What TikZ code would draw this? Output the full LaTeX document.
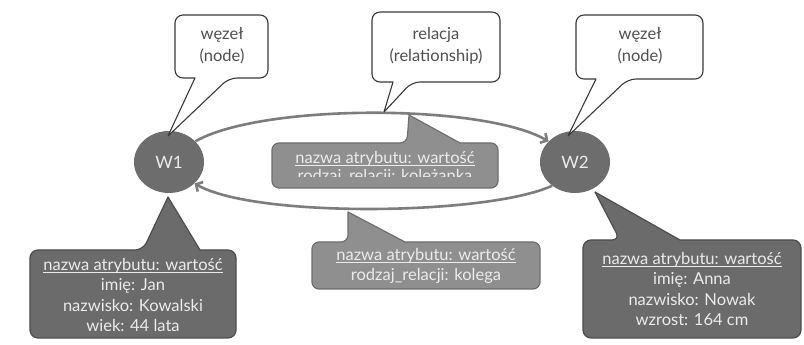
\documentclass[tikz,border=0pt]{standalone}
\usepackage{fontspec}
\setmainfont{Lato}
\usetikzlibrary{shapes.geometric,arrows.meta}
\definecolor{circfill}{HTML}{6D6D6D}
\definecolor{arccol}{HTML}{7D7D7D}
\definecolor{callborder}{HTML}{3A3A3A}
\definecolor{calltext}{HTML}{505050}
\definecolor{midfill}{HTML}{8F8F8F}
\definecolor{midborder}{HTML}{6E6E6E}
\definecolor{darkfill}{HTML}{6B6B6B}
\definecolor{darkborder}{HTML}{4D4D4D}
\definecolor{lighttext}{HTML}{EBEBEB}
% underline drawn just below the baseline
\newcommand\attrul[1]{\setbox0\hbox{#1}\rlap{\rule[-2.2pt]{\wd0}{0.75pt}}\box0}
\begin{document}
\begin{tikzpicture}[x=1pt,y=1pt,
  graphnode/.style={ellipse, fill=circfill, minimum width=70pt, minimum height=62pt,
    inner sep=0pt, text=lighttext, font=\fontsize{17}{20}\selectfont},
  relarrow/.style={draw=arccol, line width=2.6pt, -{Straight Barb[length=5pt,width=11pt]}},
  whitecall/.style={draw=callborder, fill=white, line width=1.1pt, line join=round},
  midcall/.style={draw=midborder, fill=midfill, line width=1.2pt, line join=round},
  darkcall/.style={draw=darkborder, fill=darkfill, line width=1.2pt, line join=round},
  labeltext/.style={align=center, text=calltext, inner sep=0pt, font=\fontsize{16.5}{22}\selectfont},
  attrtext/.style={align=center, text=lighttext, inner sep=0pt, font=\fontsize{16.5}{20.5}\selectfont}]
\fill[white] (0,0) rectangle (804,345);
\useasboundingbox (0,0) rectangle (804,345);

% graph nodes
\node[graphnode] (w1) at (169,183) {W1};
\node[graphnode] (w2) at (575,183) {W2};

% relationships between the nodes
\draw[relarrow] (w1.38) to[out=30,in=150,looseness=0.55] (w2.142);
\draw[relarrow] (w2.226) to[out=205,in=-30,looseness=0.5] (w1.-40);

% white label callouts
\draw[whitecall] (175,298) [rounded corners=8pt] -- (175,330) -- (268,330) -- (268,267) -- (229,267)
  [sharp corners] -- (168,209) -- (195,267) [rounded corners=8pt] -- (175,267) -- cycle;
\node[labeltext] (lab1) at (222,299) {węzeł\\(node)};

\draw[whitecall] (372,298) [rounded corners=8pt] -- (372,333) -- (500,333) -- (500,263) -- (412,263)
  [sharp corners] -- (384,233) -- (393,263) [rounded corners=8pt] -- (372,263) -- cycle;
\node[labeltext] (lab2) at (436,299) {relacja\\(relationship)};

\draw[whitecall] (576,298) [rounded corners=8pt] -- (576,330) -- (703,330) -- (703,266) -- (628,266)
  [sharp corners] -- (568,209) -- (596,266) [rounded corners=8pt] -- (576,266) -- cycle;
\node[labeltext] (lab3) at (640,299) {węzeł\\(node)};

% relationship property callouts
\draw[midcall] (272,180) [rounded corners=7pt] -- (272,202) -- (407,202)
  [sharp corners] -- (409,230) -- (460,202) [rounded corners=7pt] -- (498,202) -- (498,157) -- (272,157) -- cycle;
\begin{scope}
  \clip (273,168.5) rectangle (497,201);
  \node[attrtext, font=\fontsize{16.5}{17.5}\selectfont] (rel1) at (385,177)
    {\attrul{nazwa atrybutu: wartość}\\rodzaj\_relacji: koleżanka};
\end{scope}

\draw[midcall] (312,80) [rounded corners=7pt] -- (312,103) -- (348,103)
  [sharp corners] -- (348,133) -- (405,103) [rounded corners=7pt] -- (540,103) -- (540,56) -- (312,56) -- cycle;
\node[attrtext] (rel2) at (426,79) {\attrul{nazwa atrybutu: wartość}\\rodzaj\_relacji: kolega};

% node property callouts
\draw[darkcall] (30,50) [rounded corners=8pt] -- (30,95) -- (143,95)
  [sharp corners] -- (168,148) -- (200,95) [rounded corners=8pt] -- (236,95) -- (236,7) -- (30,7) -- cycle;
\node[attrtext] (prop1) at (133,50)
  {\attrul{nazwa atrybutu: wartość}\\imię: Jan\\nazwisko: Kowalski\\wiek: 44 lata};

\draw[darkcall] (583,50) [rounded corners=8pt] -- (583,105) -- (620,105)
  [sharp corners] -- (595,153) -- (680,105) [rounded corners=8pt] -- (801,105) -- (801,7) -- (583,7) -- cycle;
\node[attrtext] (prop2) at (692,56)
  {\attrul{nazwa atrybutu: wartość}\\imię: Anna\\nazwisko: Nowak\\wzrost: 164 cm};
\end{tikzpicture}
\end{document}
